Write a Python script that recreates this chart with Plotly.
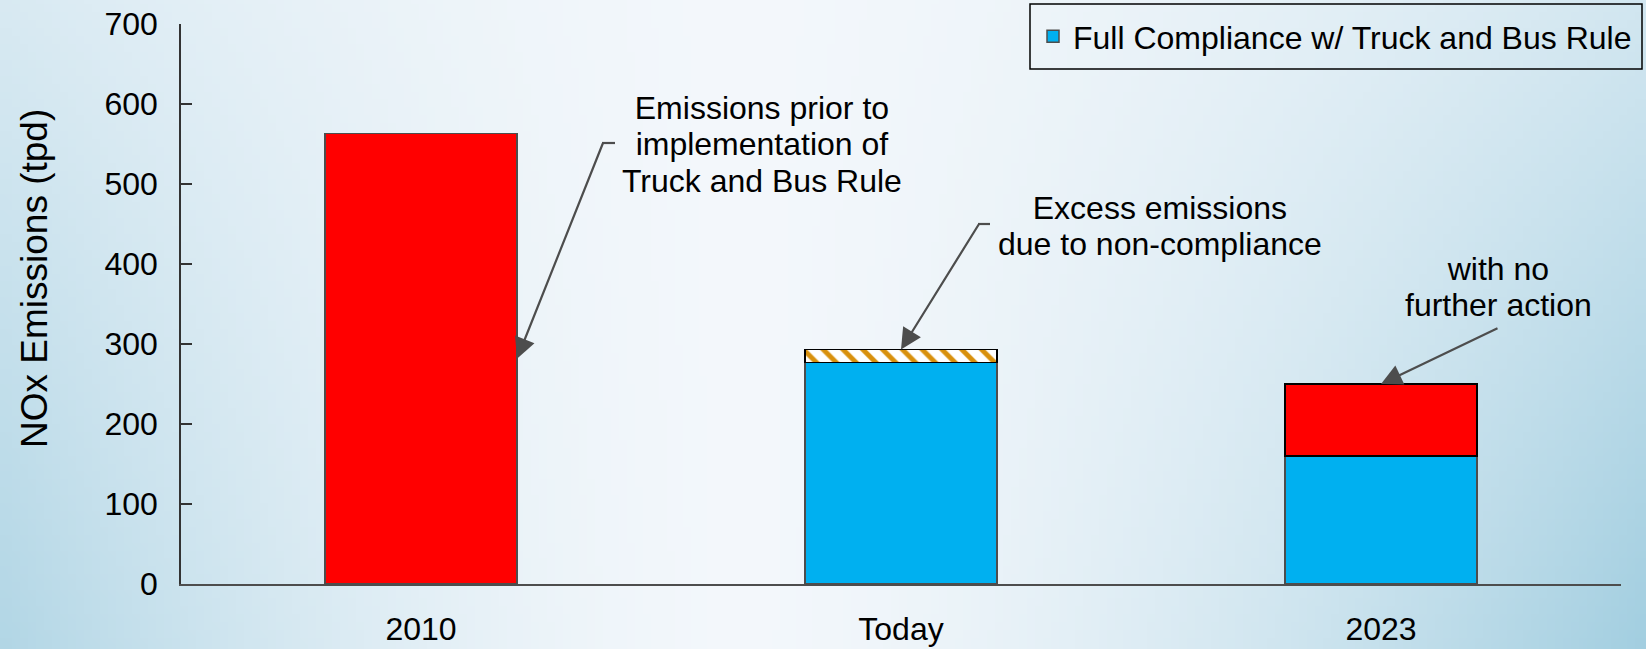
import base64, struct, zlib
import plotly.graph_objects as go

# ---------------- data ----------------
categories = ["2010", "Today", "2023"]
pre_rule_2010 = [563, None, None]          # emissions prior to Truck and Bus Rule
full_compliance = [None, 277, 160]         # Full Compliance w/ Truck and Bus Rule
excess_noncompliance = [None, 16, None]    # excess emissions due to non-compliance
no_further_action = [None, None, 90]       # with no further action
y_ticks = [0, 100, 200, 300, 400, 500, 600, 700]

# ---------------- geometry helpers ----------------
W, H = 1646, 649
ML, MR, MT, MB = 181, 25, 24, 65
PW, PH = W - ML - MR, H - MT - MB
YMAX = 700
X0 = -0.5
XSPAN = 3.0

def pxx(px):   # page pixel x -> paper
    return (px - ML) / PW

def pxy(py):   # page pixel y -> paper
    return (H - MB - py) / PH

def dx(px):    # page pixel x -> category axis value
    return X0 + (px - ML) / PW * XSPAN

def dy(py):    # page pixel y -> y axis value
    return (H - MB - py) / PH * YMAX

# ---------------- background gradient image ----------------
def bg_png(w=206, h=82):
    light = (243, 247, 251)
    blue = (150, 200, 220)
    rows = []
    for j in range(h):
        yb = j / (h - 1)
        row = bytearray()
        for i in range(w):
            x = i / (w - 1)
            if x < 0.45:
                hx = ((0.45 - x) / 0.45) ** 1.6 * 0.58
            else:
                hx = ((x - 0.45) / 0.55) ** 1.6 * 0.72
            wgt = min(1.0, hx * (0.5 + 0.7 * yb))
            for c in range(3):
                row.append(int(round(light[c] + (blue[c] - light[c]) * wgt)))
        rows.append(b"\x00" + bytes(row))
    raw = b"".join(rows)

    def chunk(t, d):
        return struct.pack(">I", len(d)) + t + d + struct.pack(">I", zlib.crc32(t + d) & 0xFFFFFFFF)

    ihdr = struct.pack(">IIBBBBB", w, h, 8, 2, 0, 0, 0)
    png = b"\x89PNG\r\n\x1a\n" + chunk(b"IHDR", ihdr) + chunk(b"IDAT", zlib.compress(raw, 9)) + chunk(b"IEND", b"")
    return "data:image/png;base64," + base64.b64encode(png).decode()

FONT = "Arial, 'Liberation Sans', sans-serif"
BLUE = "#00B0F0"
RED = "#FF0000"
GRAY = "#4D4D4D"
ORANGE = "#D8900C"

fig = go.Figure()

fig.add_trace(go.Bar(
    x=categories, y=pre_rule_2010, name="Emissions prior to Truck and Bus Rule",
    marker=dict(color=RED, line=dict(color=GRAY, width=1.5)), showlegend=False))

fig.add_trace(go.Bar(
    x=categories, y=full_compliance, name="Full Compliance w/ Truck and Bus Rule",
    marker=dict(color=BLUE, line=dict(color=GRAY, width=1.5)), showlegend=True))

fig.add_trace(go.Bar(
    x=categories, y=excess_noncompliance, name="Excess emissions due to non-compliance",
    marker=dict(color="white", line=dict(color="black", width=1.5),
                pattern=dict(shape="\\", fgcolor=ORANGE, bgcolor="white",
                             size=14, solidity=0.35, fillmode="replace")),
    showlegend=False))

fig.add_trace(go.Bar(
    x=categories, y=no_further_action, name="with no further action",
    marker=dict(color=RED, line=dict(color="black", width=1.5)), showlegend=False))

# ---------------- annotations ----------------
def lines(*parts):
    # base font 28 gives ~36px line spacing; each line rendered at 32px
    return "<br>".join('<span style="font-size:32px">%s</span>' % p for p in parts)

ann_font = dict(family=FONT, size=28, color="black")
arrow_style = dict(showarrow=True, arrowhead=2, arrowsize=1.9, arrowwidth=2.2,
                   arrowcolor=GRAY, text="", font=dict(size=1), borderpad=0,
                   startstandoff=0, axref="x", ayref="y", xref="x", yref="y")

annotations = [
    # y-axis title
    dict(text="NOx Emissions (tpd)", xref="paper", yref="paper", x=pxx(34), y=pxy(279),
         textangle=-90, showarrow=False, font=dict(family=FONT, size=37, color="black"),
         xanchor="center", yanchor="middle"),
    # labels
    dict(text=lines("Emissions prior to", "implementation of", "Truck and Bus Rule"),
         xref="paper", yref="paper", x=pxx(762), y=pxy(144), showarrow=False,
         font=ann_font, align="center", xanchor="center", yanchor="middle"),
    dict(text=lines("Excess emissions", "due to non-compliance"),
         xref="paper", yref="paper", x=pxx(1160), y=pxy(226), showarrow=False,
         font=ann_font, align="center", xanchor="center", yanchor="middle"),
    dict(text=lines("with no", "further action"),
         xref="paper", yref="paper", x=pxx(1498), y=pxy(287), showarrow=False,
         font=ann_font, align="center", xanchor="center", yanchor="middle"),
    # arrows (tips on the bars)
    dict(x=0 + 0.2, y=pre_rule_2010[0] / 2, ax=dx(603), ay=dy(143), **arrow_style),
    dict(x=1, y=full_compliance[1] + excess_noncompliance[1], ax=dx(979), ay=dy(224), **arrow_style),
    dict(x=2, y=full_compliance[2] + no_further_action[2], ax=dx(1498), ay=dy(328), **arrow_style),
]

shapes = [
    # elbows of the leader lines
    dict(type="line", xref="paper", yref="paper", x0=pxx(602), x1=pxx(615), y0=pxy(143), y1=pxy(143),
         line=dict(color=GRAY, width=2.2)),
    dict(type="line", xref="paper", yref="paper", x0=pxx(978), x1=pxx(990), y0=pxy(224), y1=pxy(224),
         line=dict(color=GRAY, width=2.2)),
    # legend frame
    dict(type="rect", xref="paper", yref="paper", x0=pxx(1030), x1=pxx(1642), y0=pxy(69), y1=pxy(4),
         line=dict(color="black", width=1.5), fillcolor="rgba(0,0,0,0)"),
]

fig.update_layout(
    width=W, height=H,
    margin=dict(l=ML, r=MR, t=MT, b=MB, pad=0, autoexpand=False),
    barmode="stack", bargap=0.6,
    paper_bgcolor="#e6f1f6", plot_bgcolor="rgba(0,0,0,0)",
    font=dict(family=FONT, size=32, color="black"),
    images=[dict(source=bg_png(), xref="paper", yref="paper",
                 x=pxx(0), y=pxy(0), sizex=W / PW, sizey=H / PH,
                 xanchor="left", yanchor="top", sizing="stretch", layer="below")],
    legend=dict(x=pxx(1033), y=pxy(36.5), xanchor="left", yanchor="middle",
                bgcolor="rgba(0,0,0,0)", borderwidth=0,
                font=dict(family=FONT, size=32, color="black")),
    annotations=annotations,
    shapes=shapes,
    xaxis=dict(categoryorder="array", categoryarray=categories, range=[X0, X0 + XSPAN],
               showline=True, linecolor=GRAY, linewidth=1.5, ticks="", showgrid=False,
               zeroline=False, ticklabelstandoff=16, automargin=False,
               tickfont=dict(family=FONT, size=32, color="black")),
    yaxis=dict(range=[0, YMAX], tickvals=y_ticks, showline=True, linecolor="#333333", linewidth=1.5,
               ticks="inside", ticklen=11, tickwidth=1.5, tickcolor="#333333",
               showgrid=False, zeroline=False, ticklabelstandoff=15, automargin=False,
               tickfont=dict(family=FONT, size=32, color="black")),
)

fig.write_html("out.html")
